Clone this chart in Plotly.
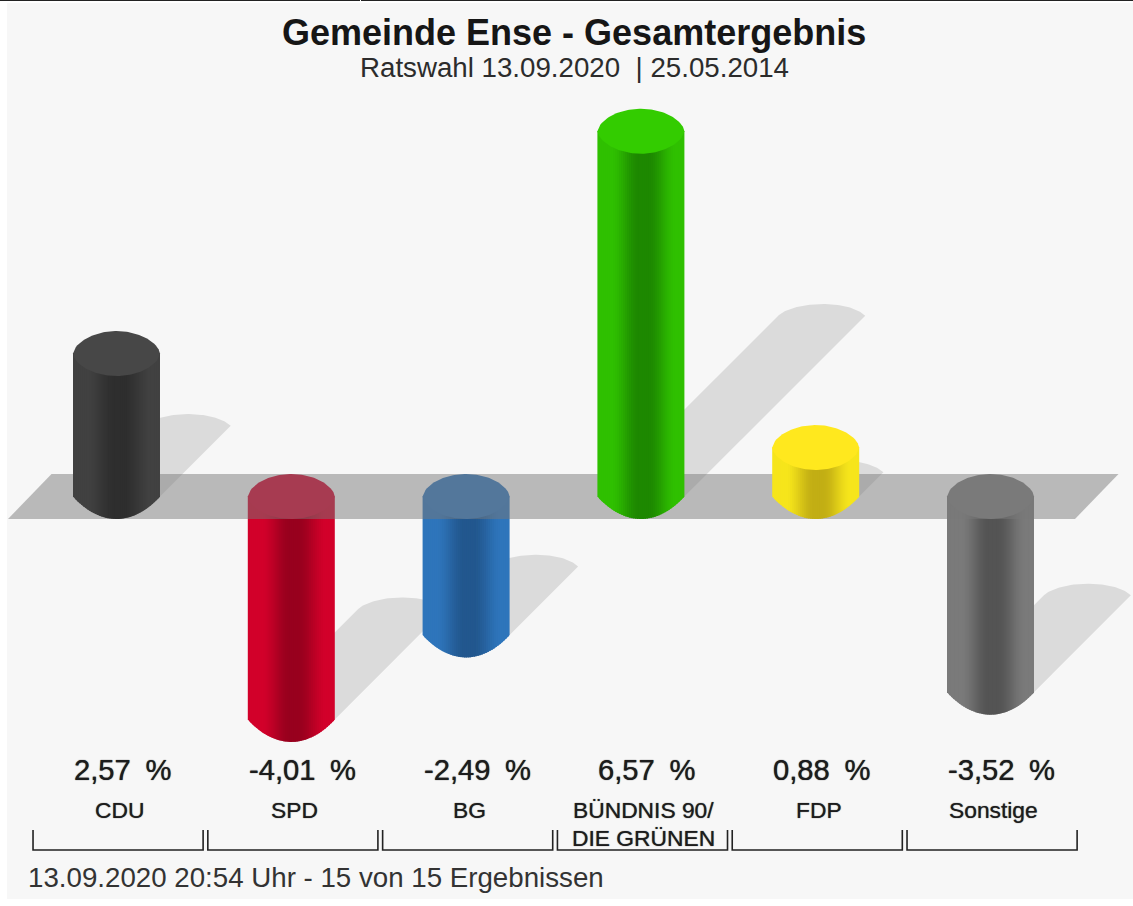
import plotly.graph_objects as go

# ---- data ----
PARTIES = ["CDU", "SPD", "BG", "BÜNDNIS 90/<br>DIE GRÜNEN", "FDP", "Sonstige"]
VALUES = [2.57, -4.01, -2.49, 6.57, 0.88, -3.52]
CAP_COLORS = ["#474747", "#d4002c", "#2f76bd", "#33cc00", "#ffe81e", "#7c7c7c"]
EDGE_COLORS = ["#414141", "#d2002a", "#2e75bb", "#2fc000", "#f6e51b", "#7a7a7a"]
CORE_COLORS = ["#2e2e2e", "#98001e", "#22578e", "#1d8800", "#c2ae14", "#545454"]
TITLE = "Gemeinde Ense - Gesamtergebnis"
SUBTITLE = "Ratswahl 13.09.2020\u00a0 | 25.05.2014"
FOOTER = "13.09.2020 20:54 Uhr - 15 von 15 Ergebnissen"

# ---- frame: one category = 174.8 px, one percentage point = 55.6 px ----
W, H = 1133, 906
PX_X, PX_Y = 174.8, 55.6
X0_PX, Y0_PX = 116.5, 496.5
RX = 43.5 / PX_X
RY = 22.5 / PX_Y
STRIPS = 44
ARC = 60
FONT = "Liberation Sans"


def px_x(p):
    return (p - X0_PX) / PX_X


def px_y(p):
    return (Y0_PX - p) / PX_Y


def hex_rgb(c):
    return tuple(int(c[k:k + 2], 16) for k in (1, 3, 5))


def mix(a, b, t):
    ra, rb = hex_rgb(a), hex_rgb(b)
    return "rgb(%d,%d,%d)" % tuple(round(p + (q - p) * t) for p, q in zip(ra, rb))


def bulge(u, p):
    # profile of a column's end; p = 0.5 is an ellipse, larger p is more chamfered
    return max(0.0, 1 - u * u) ** p


def poly(fig, xs, ys, color):
    fig.add_trace(go.Scatter(x=xs + xs[:1], y=ys + ys[:1], mode="lines", fill="toself",
                             fillcolor=color, line=dict(width=0, color=color),
                             hoverinfo="skip", showlegend=False))


def add_shadow(fig, i, v):
    # the shadow falls up and to the right, about half as far as the column is tall
    h = abs(v)
    base = min(v, 0)
    dy = h * 0.495
    dx = dy * PX_Y / PX_X
    xc, yc = i + dx, base + dy
    p0 = (xc - RX, yc)
    p1 = (p0[0] + 14 / PX_X, yc + 14 / PX_Y)
    p3 = (xc + RX, yc)
    p2 = (p3[0] - 18 / PX_X, yc + 17 / PX_Y)
    xs = [i - RX, i + RX]
    ys = [base, base]
    for k in range(ARC, -1, -1):
        t = k / ARC
        a, b, c, d = (1 - t) ** 3, 3 * t * (1 - t) ** 2, 3 * t * t * (1 - t), t ** 3
        xs.append(a * p0[0] + b * p1[0] + c * p2[0] + d * p3[0])
        ys.append(a * p0[1] + b * p1[1] + c * p2[1] + d * p3[1])
    poly(fig, xs, ys, "rgba(0,0,0,0.11)")


def add_cylinder(fig, i, v):
    top, bot = max(v, 0), min(v, 0)
    for s in range(STRIPS):
        u0 = -1 + 2 * s / STRIPS
        u1 = min(1, u0 + 2 * 1.6 / STRIPS)
        um = u0 + 1 / STRIPS
        a = min(1, max(0, (0.75 - abs(um - 0.06)) / 0.65))
        t = a * a * (3 - 2 * a)
        xs, ys = [i + RX * u0], [top]
        xs.append(i + RX * u1)
        ys.append(top)
        for k in range(7):
            u = u1 + (u0 - u1) * k / 6
            xs.append(i + RX * u)
            ys.append(bot - RY * bulge(u, 0.95))
        poly(fig, xs, ys, mix(EDGE_COLORS[i], CORE_COLORS[i], t))
    xs, ys = [], []
    for k in range(ARC + 1):
        u = -1 + 2 * k / ARC
        xs.append(i + RX * u)
        ys.append(top + RY * bulge(u, 0.6))
    for k in range(1, ARC):
        u = 1 - 2 * k / ARC
        xs.append(i + RX * u)
        ys.append(top - RY * bulge(u, 0.6))
    poly(fig, xs, ys, CAP_COLORS[i])


fig = go.Figure()

for i, v in enumerate(VALUES):
    add_shadow(fig, i, v)
for i, v in enumerate(VALUES):
    if v < 0:
        add_cylinder(fig, i, v)

# floor band, translucent over whatever hangs below the zero line
band_l, band_r = px_x(8), px_x(1075)
poly(fig, [band_l, band_r, band_r + RX, band_l + RX],
     [-RY, -RY, RY, RY], "rgba(120,120,120,0.49)")

for i, v in enumerate(VALUES):
    if v >= 0:
        add_cylinder(fig, i, v)

# brackets under each category
br_low, br_high = px_y(850), px_y(830)
for i in range(len(VALUES)):
    l, r = i - 0.4865 + 0.009, i + 0.4865 + 0.009
    fig.add_trace(go.Scatter(x=[l, l, r, r], y=[br_high, br_low, br_low, br_high], mode="lines",
                             line=dict(color="#222222", width=1.6), hoverinfo="skip", showlegend=False))

annotations = []


def label(x, y, text, size, anchor="center", color="#1c1c1c", bold=False, shadow="none"):
    annotations.append(dict(x=x, y=y, xref="x", yref="y", text=text, showarrow=False,
                            xanchor=anchor, yanchor="middle", borderpad=0,
                            font=dict(family=FONT, size=size, color=color,
                                      weight=700 if bold else 400, shadow=shadow)))


label(px_x(573.5), px_y(32), TITLE, 36, bold=True, color="#161616")
label(px_x(574.5), px_y(67), SUBTITLE, 27.7, color="#2c2c2c")
for i, (p, v) in enumerate(zip(PARTIES, VALUES)):
    txt = f"{v:.2f}".replace(".", ",") + "\u2002%"
    label(i - RX, px_y(770), txt, 29.2, anchor="left", shadow="0 0 1px #222")
    for k, line in enumerate(p.split("<br>")):
        label(i + 3 / PX_X, px_y(810 + 28 * k), line, 22.8, shadow="0 0 1px #444")
label(px_x(27), px_y(877), FOOTER, 27.7, anchor="left", color="#333333")

shapes = [
    dict(type="rect", xref="paper", yref="paper", x0=7 / W, x1=1, y0=1 - 899 / H, y1=1 - 3 / H,
         fillcolor="#f7f7f7", line_width=0, layer="below"),
    dict(type="line", xref="paper", yref="paper", x0=0, x1=360 / W, y0=1 - 0.5 / H, y1=1 - 0.5 / H,
         line=dict(color="#222222", width=1)),
    dict(type="line", xref="paper", yref="paper", x0=361 / W, x1=1, y0=1 - 0.5 / H, y1=1 - 0.5 / H,
         line=dict(color="#222222", width=1)),
]

fig.update_layout(
    width=W, height=H, margin=dict(l=0, r=0, t=0, b=0, pad=0),
    paper_bgcolor="#ffffff", plot_bgcolor="rgba(0,0,0,0)",
    xaxis=dict(range=[px_x(0), px_x(W)], visible=False, fixedrange=True),
    yaxis=dict(range=[px_y(H), px_y(0)], visible=False, fixedrange=True),
    shapes=shapes, annotations=annotations, showlegend=False,
)

fig.write_html("out.html", config=dict(displayModeBar=False),
               post_script="document.body.style.margin='0';document.body.style.overflow='hidden';")
